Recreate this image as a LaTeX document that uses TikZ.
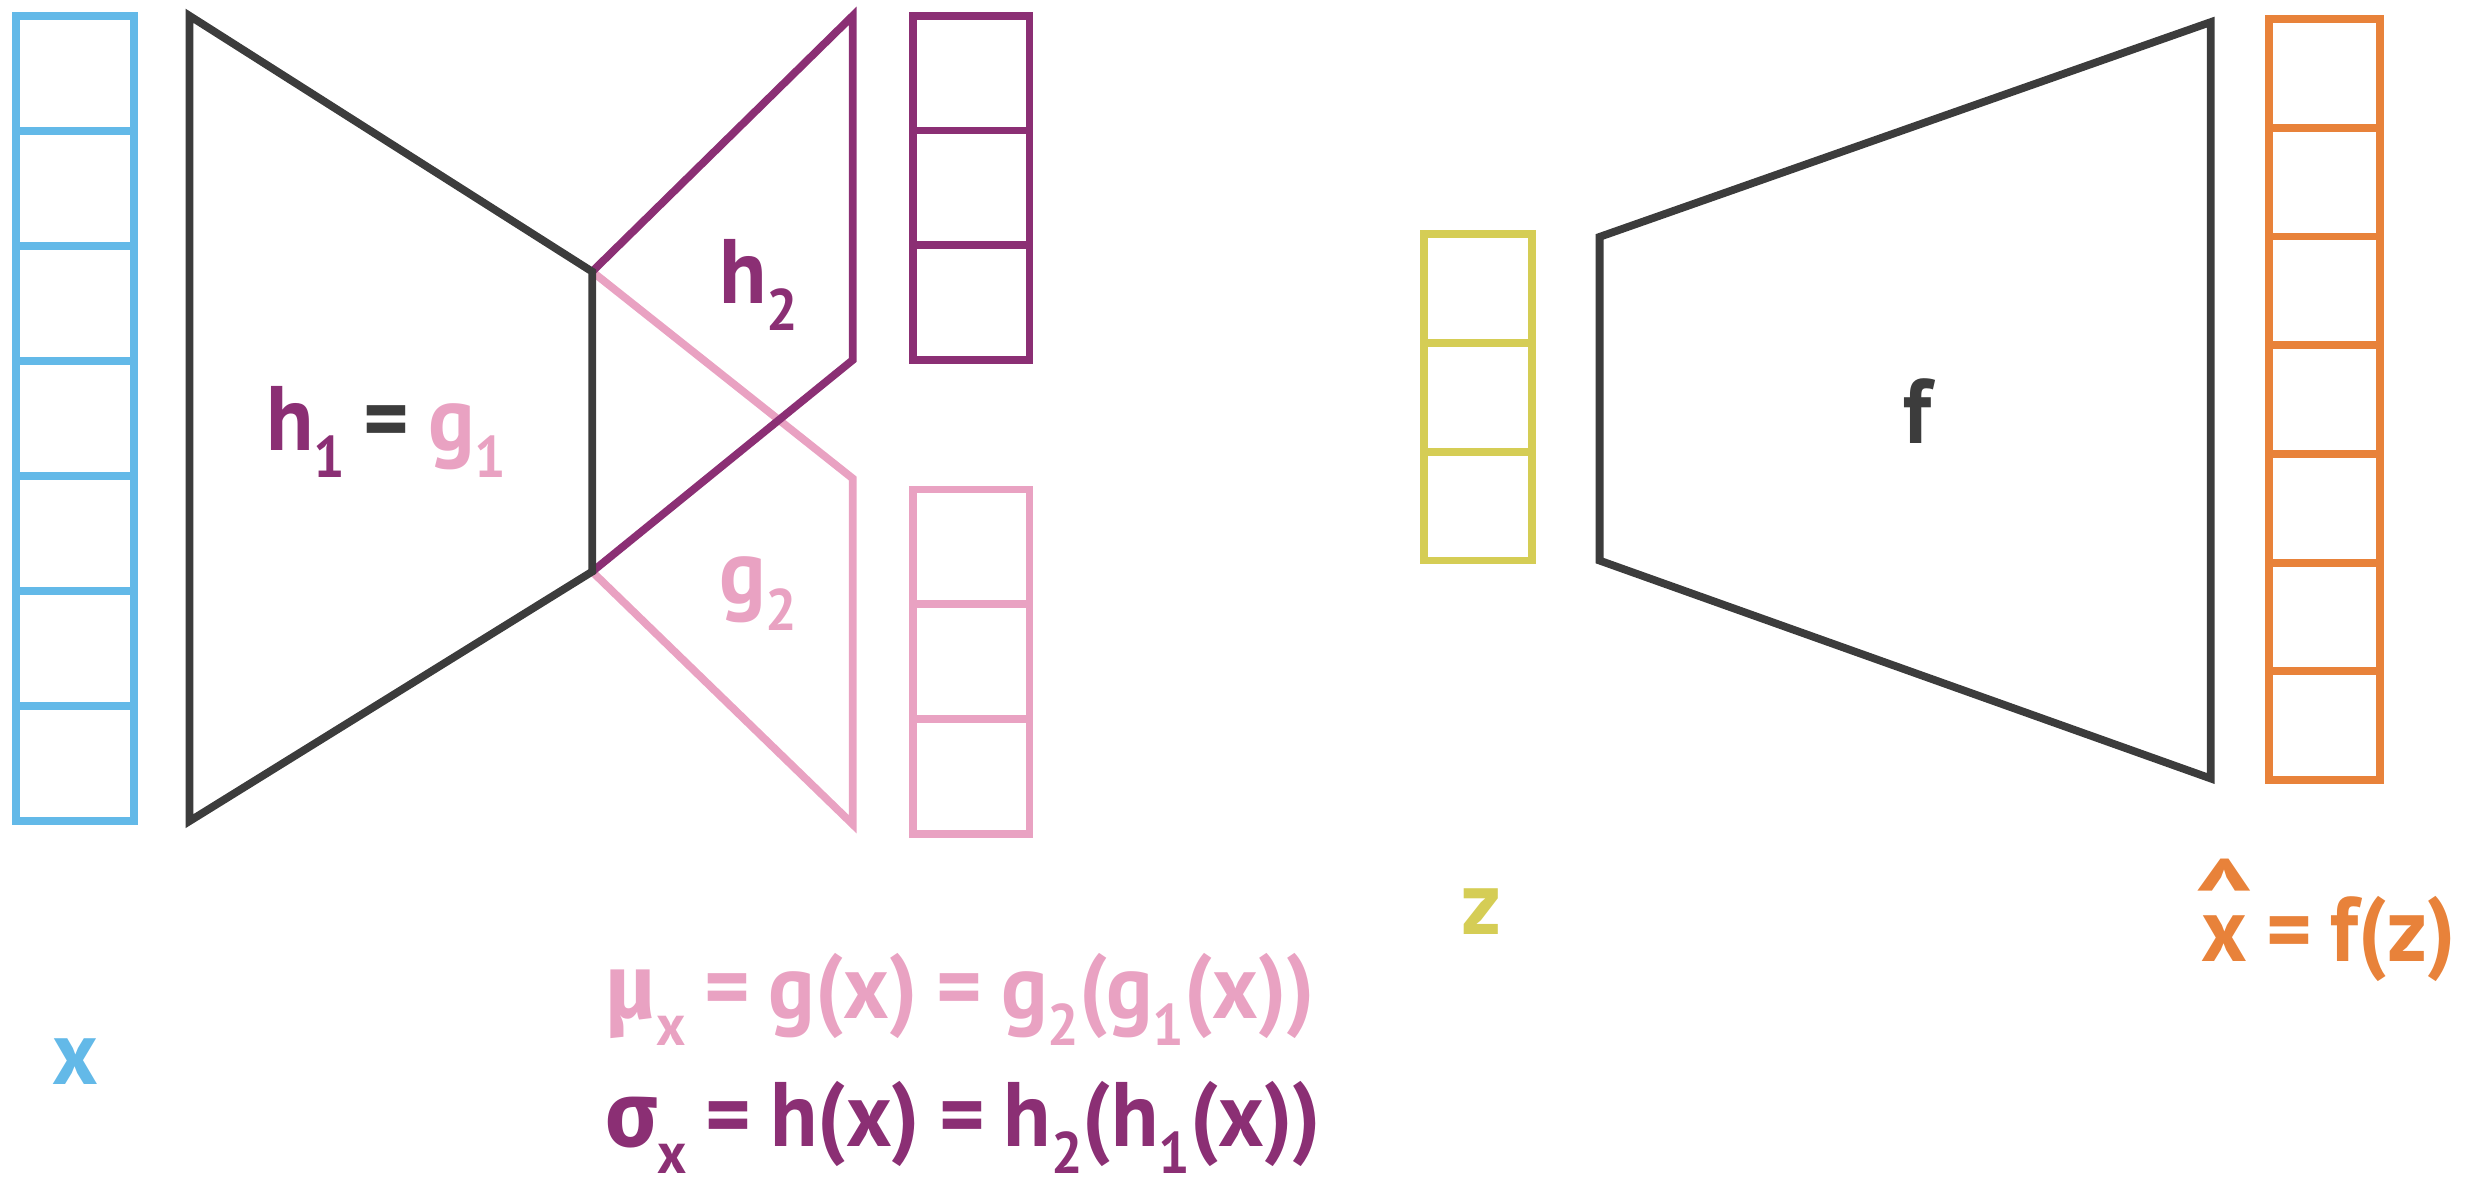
\documentclass[tikz,border=0pt]{standalone}
\usepackage{fontspec}
\setmainfont{PT Sans}[FakeStretch=0.95,WordSpace=0.85]
\newfontfamily\grk{Fira Sans}[FakeStretch=0.95]
\usepackage{graphicx}
\definecolor{inblue}{HTML}{63B9E8}
\definecolor{plum}{HTML}{8B2F74}
\definecolor{rosy}{HTML}{E9A2C2}
\definecolor{ink}{HTML}{3C3C3C}
\definecolor{mustard}{HTML}{D5CD55}
\definecolor{tangerine}{HTML}{E8823A}
\newcommand\idx[1]{\raisebox{-.3em}{\scalebox{.64}{#1}}}
\newcommand\hatx{\ooalign{x\cr\hidewidth\raisebox{.27em}{\scalebox{1.35}[1.2]{\textasciicircum}}\hidewidth\cr}}
\tikzset{lbl/.style={inner sep=0pt,font=\bfseries\fontsize{33}{38}\selectfont}}
\begin{document}
\begin{tikzpicture}[x=0.02cm,y=-0.02cm,line width=2.8pt,line join=miter]
\useasboundingbox (0,0) rectangle (1568,754);
% columns
\draw[inblue] (10,10) rectangle (85,520);
\foreach \k in {1,...,6} \draw[inblue] (10,10+\k*72.86) -- (85,10+\k*72.86);
\draw[plum] (578,10) rectangle (652,228);
\draw[rosy] (578,310) rectangle (652,528);
\draw[mustard] (902,148) rectangle (970,355);
\foreach \k in {1,2}{
  \draw[plum] (578,10+\k*72.67) -- (652,10+\k*72.67);
  \draw[rosy] (578,310+\k*72.67) -- (652,310+\k*72.67);
  \draw[mustard] (902,148+\k*69) -- (970,148+\k*69);
}
\draw[tangerine] (1437,12) rectangle (1507,494);
\foreach \k in {1,...,6} \draw[tangerine] (1437,12+\k*68.86) -- (1507,12+\k*68.86);
% networks
\draw[rosy] (375,172) -- (540,303) -- (540,522) -- (375,362);
\draw[plum] (375,362) -- (540,228) -- (540,10) -- (375,172);
\draw[ink] (120,10) -- (375,172) -- (375,362) -- (120,520) -- cycle;
\draw[ink] (1013,150) -- (1400,14) -- (1400,493) -- (1013,355) -- cycle;
% labels
\node[lbl,anchor=base west] (h1g1) at (166,285) {\color{plum}h\idx{1} \color{ink}= \color{rosy}g\idx{1}};
\node[lbl,anchor=base west,plum] (h2) at (453,192) {h\idx{2}};
\node[lbl,anchor=base west,rosy] (g2) at (453,382) {g\idx{2}};
\node[lbl,anchor=base,ink] (f) at (1214,281) {f};
\node[lbl,anchor=base,inblue] (x) at (48,687) {x};
\node[lbl,anchor=base,mustard] (z) at (938,592) {z};
\node[lbl,anchor=base west,tangerine] (xhat) at (1392,609) {\hatx{} = f(z)};
\node[lbl,anchor=base west,rosy] (mu) at (381,645) {{\grk μ}\idx{x} = g(x) = g\idx{2}(g\idx{1}(x))};
\node[lbl,anchor=base west,plum] (sigma) at (381,726) {{\grk σ}\idx{x} = h(x) = h\idx{2}(h\idx{1}(x))};
\end{tikzpicture}
\end{document}
